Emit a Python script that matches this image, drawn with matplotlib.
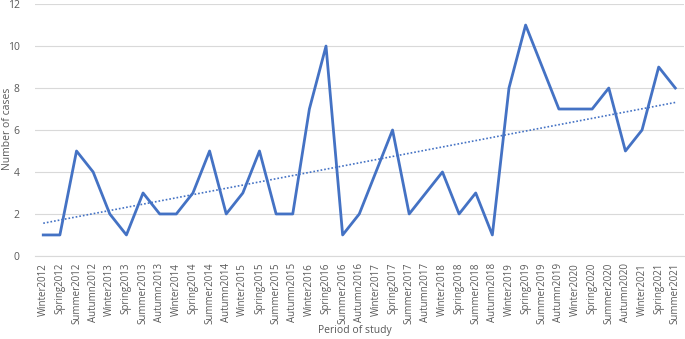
import matplotlib.pyplot as plt
import numpy as np

plt.rcParams['font.family'] = ['Open Sans', 'DejaVu Sans']

# Data
periods = ['Winter2012', 'Spring2012', 'Summer2012', 'Autumn2012',
           'Winter2013', 'Spring2013', 'Summer2013', 'Autumn2013',
           'Winter2014', 'Spring2014', 'Summer2014', 'Autumn2014',
           'Winter2015', 'Spring2015', 'Summer2015', 'Autumn2015',
           'Winter2016', 'Spring2016', 'Summer2016', 'Autumn2016',
           'Winter2017', 'Spring2017', 'Summer2017', 'Autumn2017',
           'Winter2018', 'Spring2018', 'Summer2018', 'Autumn2018',
           'Winter2019', 'Spring2019', 'Summer2019', 'Autumn2019',
           'Winter2020', 'Spring2020', 'Summer2020', 'Autumn2020',
           'Winter2021', 'Spring2021', 'Summer2021']
cases = [1, 1, 5, 4, 2, 1, 3, 2, 2, 3, 5, 2, 3, 5, 2, 2, 7, 10, 1, 2,
         4, 6, 2, 3, 4, 2, 3, 1, 8, 11, 9, 7, 7, 7, 8, 5, 6, 9, 8]

grey = '#595959'
blue = '#4472C4'

fig = plt.figure(figsize=(6.85, 3.39), dpi=100)
ax = fig.add_axes([0.051, 0.245, 0.947, 0.743])

x = np.arange(len(periods))
ax.plot(x, cases, color=blue, linewidth=2.0, zorder=3)

# linear trend line (Excel style)
k, b = np.polyfit(x, cases, 1)
ax.plot(x, k * x + b, color=blue, linewidth=1.2, linestyle=(0, (1, 1.2)), zorder=2)

ax.set_xlim(-0.5, len(periods) - 0.5)
ax.set_ylim(0, 12)
ax.set_yticks(range(0, 13, 2))
ax.set_xticks(x)
ax.set_xticklabels(periods, rotation=90, fontsize=7, color=grey)
ax.tick_params(axis='y', labelsize=7.5, labelcolor=grey, length=0, pad=11)
ax.tick_params(axis='x', length=0, pad=5)

ax.grid(axis='y', color='#d9d9d9', linewidth=0.8)
ax.set_axisbelow(True)
for s in ['top', 'right', 'left']:
    ax.spines[s].set_visible(False)
ax.spines['bottom'].set_color('#d9d9d9')

fig.text(8 / 685, 0.62, 'Number of cases', rotation=90, fontsize=7.5,
         color=grey, ha='center', va='center')
fig.text(355 / 685, 1 - 331 / 339, 'Period of study', fontsize=7.5,
         color=grey, ha='center', va='center')

plt.savefig('out.png', dpi=100)
